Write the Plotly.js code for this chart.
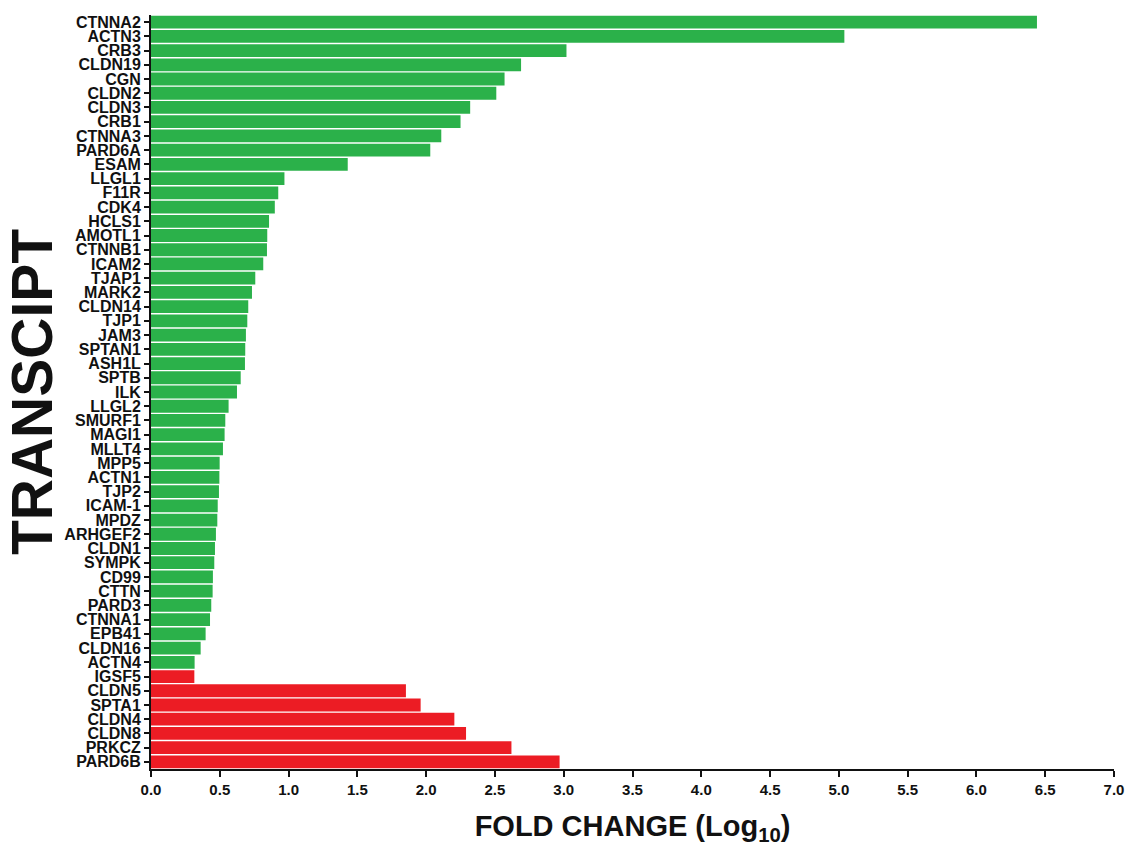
<!DOCTYPE html>
<html>
<head>
<meta charset="utf-8">
<script src="https://cdn.plot.ly/plotly-3.0.1.min.js"></script>
<style>html,body{margin:0;padding:0;background:#fff;}#chart{width:1127px;height:846px;}</style>
</head>
<body>
<div id="chart"></div>
<script>
const transcripts = ["CTNNA2","ACTN3","CRB3","CLDN19","CGN","CLDN2","CLDN3","CRB1","CTNNA3","PARD6A","ESAM","LLGL1","F11R","CDK4","HCLS1","AMOTL1","CTNNB1","ICAM2","TJAP1","MARK2","CLDN14","TJP1","JAM3","SPTAN1","ASH1L","SPTB","ILK","LLGL2","SMURF1","MAGI1","MLLT4","MPP5","ACTN1","TJP2","ICAM-1","MPDZ","ARHGEF2","CLDN1","SYMPK","CD99","CTTN","PARD3","CTNNA1","EPB41","CLDN16","ACTN4","IGSF5","CLDN5","SPTA1","CLDN4","CLDN8","PRKCZ","PARD6B"];
const foldChange = [6.44,5.04,3.02,2.69,2.57,2.51,2.32,2.25,2.11,2.03,1.43,0.97,0.925,0.90,0.858,0.845,0.843,0.816,0.758,0.734,0.707,0.70,0.69,0.685,0.683,0.652,0.625,0.564,0.54,0.535,0.523,0.499,0.497,0.494,0.485,0.482,0.472,0.465,0.46,0.45,0.448,0.438,0.429,0.397,0.361,0.317,0.315,1.853,1.96,2.205,2.29,2.62,2.97];
const direction = ["up","up","up","up","up","up","up","up","up","up","up","up","up","up","up","up","up","up","up","up","up","up","up","up","up","up","up","up","up","up","up","up","up","up","up","up","up","up","up","up","up","up","up","up","up","up","down","down","down","down","down","down","down"];
const xTicks = [0,0.5,1,1.5,2,2.5,3,3.5,4,4.5,5,5.5,6,6.5,7];

const GREEN = "#2bb14a", RED = "#ec1c24";
const colors = direction.map(d => d === "up" ? GREEN : RED);

const trace = {
  type: "bar",
  orientation: "h",
  x: foldChange,
  y: transcripts,
  marker: {color: colors, line: {width: 0}},
  hoverinfo: "x+y"
};

const layout = {
  width: 1127, height: 846,
  margin: {l: 151, r: 13, t: 15, b: 77, pad: 0},
  paper_bgcolor: "#fff", plot_bgcolor: "#fff",
  bargap: 0.1,
  showlegend: false,
  font: {family: "Liberation Sans, Arial, sans-serif", color: "#111"},
  xaxis: {
    range: [0, 7],
    tickmode: "array",
    tickvals: xTicks,
    ticktext: xTicks.map(v => v.toFixed(1)),
    showgrid: false, zeroline: false,
    showline: true, linecolor: "#111", linewidth: 2,
    ticks: "outside", ticklen: 6, tickwidth: 2, tickcolor: "#111",
    tickfont: {size: 15, family: "Liberation Sans, Arial, sans-serif", weight: "bold"},
    title: {text: "FOLD CHANGE (Log<sub>10</sub>)", font: {size: 29, weight: "bold"}, standoff: 21}
  },
  yaxis: {
    type: "category",
    autorange: "reversed",
    tickmode: "array",
    tickvals: transcripts,
    ticktext: transcripts,
    showgrid: false, zeroline: false,
    showline: true, linecolor: "#111", linewidth: 2,
    ticks: "outside", ticklen: 5, tickwidth: 2, tickcolor: "#111",
    tickfont: {size: 16, family: "Liberation Sans, Arial, sans-serif", weight: "bold"},
    title: {text: "TRANSCIPT", font: {size: 57, weight: "bold"}, standoff: 12}
  }
};

Plotly.newPlot("chart", [trace], layout, {displayModeBar: false, staticPlot: true});
</script>
</body>
</html>
